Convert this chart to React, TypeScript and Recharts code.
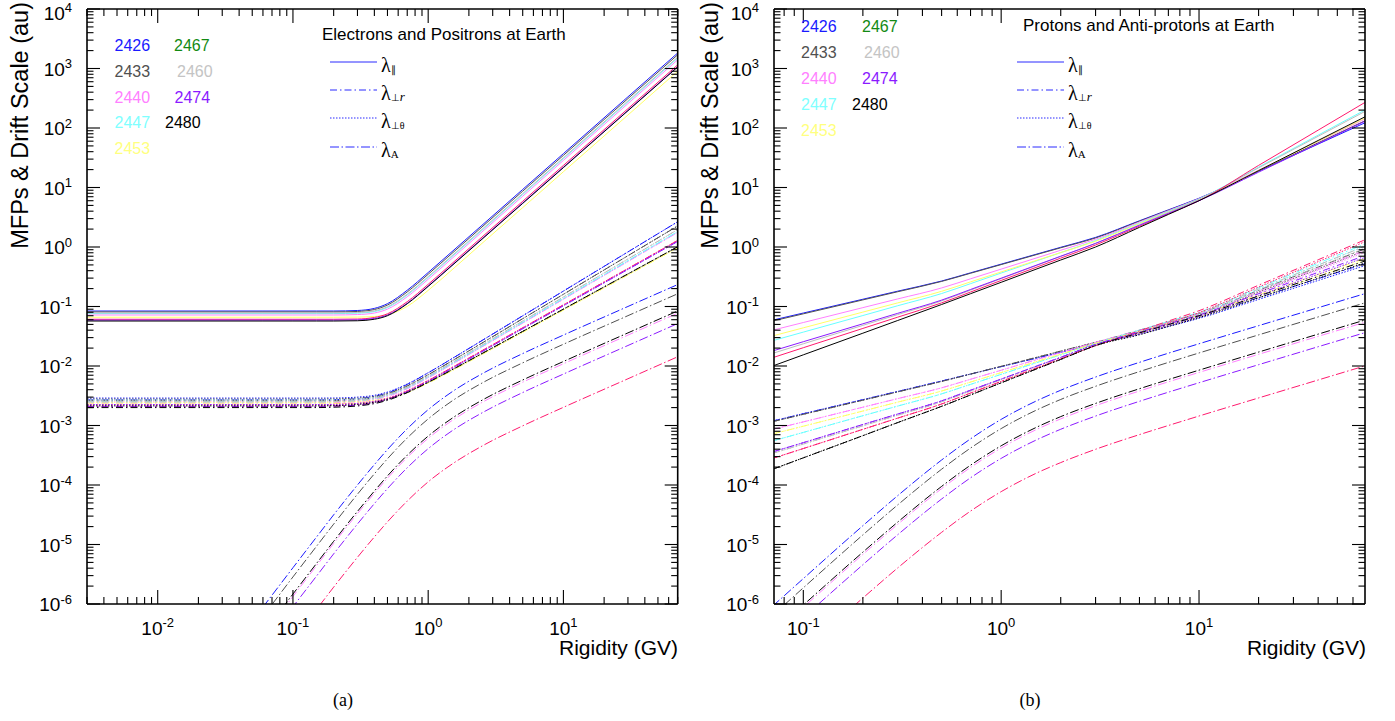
import React from 'react';
import { LineChart, Line, XAxis, YAxis } from 'recharts';

const SANS = '"Liberation Sans", Arial, Helvetica, sans-serif';
const SERIF = '"Liberation Serif", "Times New Roman", serif';

// Carrington rotations, in drawing order
const ROTATIONS = ['2426', '2433', '2440', '2447', '2453', '2460', '2467', '2474', '2480'];

const COLORS: Record<string, string> = {
  '2426': '#1a1aff',
  '2433': '#505050',
  '2440': '#ff80ff',
  '2447': '#66ffff',
  '2453': '#ffff66',
  '2460': '#bdbdbd',
  '2467': '#ff1a6e',
  '2474': '#8b1aff',
  '2480': '#000000',
};

const LABEL_COLORS: Record<string, string> = {
  '2426': '#1a1aff',
  '2467': '#138a13',
  '2433': '#505050',
  '2460': '#c4c4c4',
  '2440': '#ff80ff',
  '2474': '#8b1aff',
  '2447': '#80ffff',
  '2480': '#000000',
  '2453': '#ffff80',
};

// ---------- electrons / positrons (panel a) ----------
const E_RIGIDITY = [0.003, 0.06, 0.1, 0.15, 0.2, 0.3, 0.4, 0.5, 0.7, 1, 1.5, 2.5, 5, 10, 30, 70];

const E_PARALLEL: Record<string, number[]> = {
  '2426': [0.084, 0.084, 0.084, 0.084, 0.084, 0.0857, 0.0929, 0.1116, 0.1876, 0.3727, 0.835, 2.32, 9.28, 37.1, 334, 1820],
  '2433': [0.081, 0.081, 0.081, 0.081, 0.081, 0.0825, 0.0889, 0.1058, 0.1759, 0.3485, 0.781, 2.17, 8.68, 34.7, 312, 1700],
  '2440': [0.072, 0.072, 0.072, 0.072, 0.072, 0.0732, 0.0777, 0.0904, 0.146, 0.2871, 0.643, 1.79, 7.14, 28.6, 257, 1400],
  '2447': [0.076, 0.076, 0.076, 0.076, 0.076, 0.0773, 0.0823, 0.0961, 0.1562, 0.3076, 0.689, 1.91, 7.65, 30.6, 275, 1500],
  '2453': [0.066, 0.066, 0.066, 0.066, 0.066, 0.0664, 0.0679, 0.0727, 0.1006, 0.1865, 0.413, 1.15, 4.59, 18.4, 165, 900],
  '2460': [0.078, 0.078, 0.078, 0.078, 0.078, 0.0794, 0.0845, 0.099, 0.1613, 0.3178, 0.712, 1.98, 7.91, 31.6, 285, 1550],
  '2467': [0.061, 0.061, 0.061, 0.061, 0.061, 0.0616, 0.0654, 0.0754, 0.1205, 0.2361, 0.528, 1.47, 5.87, 23.5, 211, 1150],
  '2474': [0.059, 0.059, 0.059, 0.059, 0.059, 0.0596, 0.0629, 0.072, 0.1136, 0.2217, 0.496, 1.38, 5.51, 22.0, 198, 1080],
  '2480': [0.057, 0.057, 0.057, 0.057, 0.057, 0.0576, 0.061, 0.07, 0.1112, 0.2176, 0.487, 1.35, 5.41, 21.6, 195, 1060],
};

const E_PERP_R: Record<string, number[]> = {
  '2426': [2.7e-3, 2.7e-3, 2.7e-3, 2.7e-3, 2.72e-3, 2.83e-3, 3.09e-3, 3.54e-3, 4.91e-3, 7.68e-3, 0.0133, 0.0268, 0.0698, 0.1816, 0.827, 2.66],
  '2433': [2.6e-3, 2.6e-3, 2.6e-3, 2.6e-3, 2.62e-3, 2.72e-3, 2.95e-3, 3.36e-3, 4.6e-3, 7.12e-3, 0.0122, 0.0243, 0.0624, 0.1604, 0.714, 2.26],
  '2440': [2.4e-3, 2.4e-3, 2.4e-3, 2.4e-3, 2.42e-3, 2.51e-3, 2.71e-3, 3.07e-3, 4.14e-3, 6.32e-3, 0.0107, 0.021, 0.0527, 0.1326, 0.571, 1.76],
  '2447': [2.5e-3, 2.5e-3, 2.5e-3, 2.5e-3, 2.52e-3, 2.61e-3, 2.82e-3, 3.18e-3, 4.29e-3, 6.53e-3, 0.011, 0.0216, 0.0544, 0.1368, 0.589, 1.82],
  '2453': [2.3e-3, 2.3e-3, 2.3e-3, 2.3e-3, 2.32e-3, 2.39e-3, 2.54e-3, 2.79e-3, 3.56e-3, 5.16e-3, 8.32e-3, 0.0156, 0.0368, 0.087, 0.339, 0.97],
  '2460': [2.5e-3, 2.5e-3, 2.5e-3, 2.5e-3, 2.52e-3, 2.62e-3, 2.84e-3, 3.22e-3, 4.38e-3, 6.72e-3, 0.0114, 0.0225, 0.057, 0.1444, 0.629, 1.96],
  '2467': [2.1e-3, 2.1e-3, 2.1e-3, 2.1e-3, 2.13e-3, 2.22e-3, 2.44e-3, 2.78e-3, 3.78e-3, 5.7e-3, 9.44e-3, 0.0181, 0.0439, 0.1067, 0.435, 1.29],
  '2474': [2.1e-3, 2.1e-3, 2.1e-3, 2.1e-3, 2.12e-3, 2.21e-3, 2.41e-3, 2.73e-3, 3.67e-3, 5.5e-3, 9.1e-3, 0.0174, 0.0424, 0.1029, 0.42, 1.24],
  '2480': [2.0e-3, 2.0e-3, 2.0e-3, 2.0e-3, 2.03e-3, 2.13e-3, 2.33e-3, 2.65e-3, 3.56e-3, 5.3e-3, 8.63e-3, 0.0162, 0.0382, 0.0904, 0.353, 1.01],
};

const E_PERP_T: Record<string, number[]> = {
  '2426': [2.89e-3, 2.89e-3, 2.89e-3, 2.89e-3, 2.9e-3, 3.0e-3, 3.22e-3, 3.65e-3, 4.98e-3, 7.72e-3, 0.0133, 0.0268, 0.0698, 0.1816, 0.827, 2.66],
  '2433': [2.78e-3, 2.78e-3, 2.78e-3, 2.78e-3, 2.8e-3, 2.89e-3, 3.09e-3, 3.47e-3, 4.68e-3, 7.16e-3, 0.0122, 0.0243, 0.0624, 0.1604, 0.714, 2.26],
  '2440': [2.57e-3, 2.57e-3, 2.57e-3, 2.57e-3, 2.58e-3, 2.67e-3, 2.84e-3, 3.17e-3, 4.22e-3, 6.36e-3, 0.0107, 0.021, 0.0527, 0.1326, 0.571, 1.76],
  '2447': [2.68e-3, 2.68e-3, 2.68e-3, 2.68e-3, 2.69e-3, 2.78e-3, 2.95e-3, 3.29e-3, 4.37e-3, 6.57e-3, 0.011, 0.0216, 0.0544, 0.1368, 0.589, 1.82],
  '2453': [2.46e-3, 2.46e-3, 2.46e-3, 2.46e-3, 2.47e-3, 2.54e-3, 2.67e-3, 2.9e-3, 3.64e-3, 5.22e-3, 8.36e-3, 0.0156, 0.0368, 0.087, 0.339, 0.97],
  '2460': [2.68e-3, 2.68e-3, 2.68e-3, 2.68e-3, 2.69e-3, 2.79e-3, 2.97e-3, 3.33e-3, 4.46e-3, 6.76e-3, 0.0114, 0.0225, 0.057, 0.1444, 0.629, 1.96],
  '2467': [2.25e-3, 2.25e-3, 2.25e-3, 2.25e-3, 2.27e-3, 2.36e-3, 2.56e-3, 2.88e-3, 3.86e-3, 5.74e-3, 9.46e-3, 0.0181, 0.0439, 0.1067, 0.435, 1.29],
  '2474': [2.25e-3, 2.25e-3, 2.25e-3, 2.25e-3, 2.26e-3, 2.35e-3, 2.53e-3, 2.83e-3, 3.74e-3, 5.54e-3, 9.12e-3, 0.0174, 0.0424, 0.1029, 0.42, 1.24],
  '2480': [2.14e-3, 2.14e-3, 2.14e-3, 2.14e-3, 2.16e-3, 2.26e-3, 2.45e-3, 2.75e-3, 3.63e-3, 5.34e-3, 8.65e-3, 0.0162, 0.0382, 0.0904, 0.353, 1.01],
};

const E_DRIFT: Record<string, (number | null)[]> = {
  '2426': [null, 8.86e-7, 4.07e-6, 1.35e-5, 3.15e-5, 1.0e-4, 2.2e-4, 3.94e-4, 8.81e-4, 1.845e-3, 3.68e-3, 7.39e-3, 1.618e-2, 3.31e-2, 0.1001, 0.2338],
  '2433': [null, 6.2e-7, 2.85e-6, 9.45e-6, 2.2e-5, 7.0e-5, 1.54e-4, 2.76e-4, 6.17e-4, 1.29e-3, 2.58e-3, 5.17e-3, 1.13e-2, 2.32e-2, 0.0701, 0.1637],
  '2440': [null, 2.9e-7, 1.34e-6, 4.46e-6, 1.04e-5, 3.3e-5, 7.26e-5, 1.3e-4, 2.91e-4, 6.09e-4, 1.21e-3, 2.44e-3, 5.34e-3, 1.09e-2, 0.033, 0.0772],
  '2467': [null, 5.4e-8, 2.48e-7, 8.2e-7, 1.92e-6, 6.1e-6, 1.34e-5, 2.4e-5, 5.37e-5, 1.13e-4, 2.24e-4, 4.51e-4, 9.87e-4, 2.02e-3, 6.1e-3, 0.0143],
  '2474': [null, 1.96e-7, 9.0e-7, 2.98e-6, 6.96e-6, 2.21e-5, 4.86e-5, 8.7e-5, 1.95e-4, 4.08e-4, 8.13e-4, 1.63e-3, 3.58e-3, 7.32e-3, 0.0221, 0.0517],
  '2480': [null, 3.2e-7, 1.47e-6, 4.86e-6, 1.13e-5, 3.6e-5, 7.9e-5, 1.42e-4, 3.17e-4, 6.64e-4, 1.32e-3, 2.66e-3, 5.82e-3, 1.19e-2, 0.036, 0.0842],
};

// ---------- protons / anti-protons (panel b) ----------
const P_RIGIDITY = [0.07, 0.1, 0.2, 0.3, 0.5, 0.7, 1, 1.5, 2, 3, 5, 7, 10, 20, 40, 70];

const P_PARALLEL: Record<string, number[]> = {
  '2426': [0.059, 0.0777, 0.1324, 0.181, 0.268, 0.368, 0.515, 0.754, 0.989, 1.45, 2.76, 4.21, 6.6, 18.8, 53.7, 125],
  '2433': [0.057, 0.0753, 0.129, 0.177, 0.264, 0.362, 0.506, 0.741, 0.97, 1.42, 2.71, 4.14, 6.5, 19.1, 56.4, 135],
  '2440': [0.04, 0.0538, 0.0957, 0.134, 0.205, 0.292, 0.425, 0.651, 0.882, 1.35, 2.63, 4.08, 6.5, 19.6, 59.4, 145],
  '2447': [0.0266, 0.0371, 0.0705, 0.103, 0.165, 0.242, 0.365, 0.58, 0.805, 1.28, 2.53, 3.97, 6.4, 22.0, 75.9, 206],
  '2453': [0.032, 0.0438, 0.0805, 0.115, 0.18, 0.259, 0.381, 0.591, 0.806, 1.25, 2.47, 3.86, 6.2, 19.3, 60.0, 150],
  '2460': [0.0163, 0.0236, 0.0482, 0.0731, 0.124, 0.188, 0.294, 0.486, 0.695, 1.15, 2.37, 3.81, 6.3, 21.4, 72.6, 195],
  '2467': [0.0138, 0.0203, 0.0428, 0.0662, 0.115, 0.175, 0.274, 0.454, 0.65, 1.08, 2.24, 3.61, 6.0, 23.5, 92.0, 277],
  '2474': [0.0179, 0.0256, 0.0512, 0.0768, 0.128, 0.193, 0.299, 0.492, 0.7, 1.15, 2.32, 3.68, 6.0, 18.1, 54.6, 133],
  '2480': [0.01, 0.0154, 0.0356, 0.0582, 0.108, 0.164, 0.255, 0.423, 0.604, 1.0, 2.14, 3.53, 6.0, 19.2, 61.7, 158],
};

const P_PERP_R: Record<string, number[]> = {
  '2426': [1.19e-3, 1.58e-3, 2.72e-3, 3.74e-3, 5.6e-3, 7.33e-3, 9.75e-3, 0.0135, 0.017, 0.0235, 0.0369, 0.0496, 0.068, 0.1415, 0.294, 0.532],
  '2433': [1.16e-3, 1.54e-3, 2.66e-3, 3.67e-3, 5.5e-3, 7.31e-3, 9.88e-3, 0.0139, 0.0178, 0.025, 0.0401, 0.0547, 0.076, 0.187, 0.459, 0.95],
  '2440': [8.6e-4, 1.15e-3, 2.03e-3, 2.83e-3, 4.3e-3, 5.98e-3, 8.49e-3, 0.0127, 0.0168, 0.025, 0.0398, 0.0542, 0.075, 0.181, 0.437, 0.89],
  '2447': [5.5e-4, 7.65e-4, 1.46e-3, 2.12e-3, 3.4e-3, 4.91e-3, 7.24e-3, 0.0113, 0.0154, 0.024, 0.04, 0.056, 0.08, 0.207, 0.534, 1.15],
  '2453': [7.2e-4, 9.73e-4, 1.75e-3, 2.47e-3, 3.8e-3, 5.37e-3, 7.75e-3, 0.0118, 0.0158, 0.024, 0.0382, 0.052, 0.072, 0.158, 0.345, 0.65],
  '2460': [3.4e-4, 4.88e-4, 9.87e-4, 1.49e-3, 2.5e-3, 3.79e-3, 5.9e-3, 9.75e-3, 0.0139, 0.023, 0.0386, 0.0543, 0.078, 0.197, 0.497, 1.05],
  '2467': [2.8e-4, 4.1e-4, 8.62e-4, 1.33e-3, 2.3e-3, 3.51e-3, 5.51e-3, 9.18e-3, 0.0132, 0.022, 0.039, 0.057, 0.085, 0.228, 0.61, 1.35],
  '2474': [3.6e-4, 5.15e-4, 1.04e-3, 1.56e-3, 2.6e-3, 3.92e-3, 6.04e-3, 9.89e-3, 0.014, 0.023, 0.0373, 0.0514, 0.072, 0.164, 0.375, 0.73],
  '2480': [1.84e-4, 2.86e-4, 6.75e-4, 1.12e-3, 2.1e-3, 3.26e-3, 5.21e-3, 8.86e-3, 0.0129, 0.022, 0.036, 0.0497, 0.07, 0.15, 0.32, 0.59],
};

const P_PERP_T: Record<string, number[]> = {
  '2426': [1.19e-3, 1.58e-3, 2.72e-3, 3.74e-3, 5.6e-3, 7.33e-3, 9.75e-3, 0.0135, 0.017, 0.0235, 0.0343, 0.0461, 0.0632, 0.1316, 0.274, 0.495],
  '2433': [1.16e-3, 1.54e-3, 2.66e-3, 3.67e-3, 5.5e-3, 7.31e-3, 9.88e-3, 0.0139, 0.0178, 0.025, 0.0373, 0.0509, 0.0707, 0.174, 0.427, 0.884],
  '2440': [8.6e-4, 1.15e-3, 2.03e-3, 2.83e-3, 4.3e-3, 5.98e-3, 8.49e-3, 0.0127, 0.0168, 0.025, 0.037, 0.0504, 0.0698, 0.168, 0.406, 0.828],
  '2447': [5.5e-4, 7.65e-4, 1.46e-3, 2.12e-3, 3.4e-3, 4.91e-3, 7.24e-3, 0.0113, 0.0154, 0.024, 0.0372, 0.0521, 0.0744, 0.192, 0.497, 1.07],
  '2453': [7.2e-4, 9.73e-4, 1.75e-3, 2.47e-3, 3.8e-3, 5.37e-3, 7.75e-3, 0.0118, 0.0158, 0.024, 0.0355, 0.0484, 0.067, 0.147, 0.321, 0.605],
  '2460': [3.4e-4, 4.88e-4, 9.87e-4, 1.49e-3, 2.5e-3, 3.79e-3, 5.9e-3, 9.75e-3, 0.0139, 0.023, 0.0359, 0.0505, 0.0725, 0.183, 0.462, 0.977],
  '2467': [2.8e-4, 4.1e-4, 8.62e-4, 1.33e-3, 2.3e-3, 3.51e-3, 5.51e-3, 9.18e-3, 0.0132, 0.022, 0.0363, 0.053, 0.079, 0.212, 0.567, 1.256],
  '2474': [3.6e-4, 5.15e-4, 1.04e-3, 1.56e-3, 2.6e-3, 3.92e-3, 6.04e-3, 9.89e-3, 0.014, 0.023, 0.0347, 0.0478, 0.067, 0.1525, 0.349, 0.679],
  '2480': [1.84e-4, 2.86e-4, 6.75e-4, 1.12e-3, 2.1e-3, 3.26e-3, 5.21e-3, 8.86e-3, 0.0129, 0.022, 0.0335, 0.0462, 0.0651, 0.1395, 0.2975, 0.549],
};

const P_DRIFT: Record<string, number[]> = {
  '2426': [9.21e-7, 2.67e-6, 2.07e-5, 6.62e-5, 2.63e-4, 5.96e-4, 1.267e-3, 2.57e-3, 3.91e-3, 6.52e-3, 1.152e-2, 1.641e-2, 2.365e-2, 4.761e-2, 9.539e-2, 0.167],
  '2433': [6.45e-7, 1.87e-6, 1.45e-5, 4.63e-5, 1.84e-4, 4.17e-4, 8.87e-4, 1.8e-3, 2.74e-3, 4.56e-3, 8.06e-3, 1.149e-2, 1.656e-2, 3.333e-2, 6.677e-2, 0.1169],
  '2440': [3.04e-7, 8.81e-7, 6.82e-6, 2.18e-5, 8.68e-5, 1.97e-4, 4.18e-4, 8.48e-4, 1.29e-3, 2.15e-3, 3.8e-3, 5.42e-3, 7.8e-3, 1.571e-2, 3.148e-2, 0.0551],
  '2467': [5.6e-8, 1.63e-7, 1.26e-6, 4.04e-6, 1.6e-5, 3.64e-5, 7.73e-5, 1.57e-4, 2.38e-4, 3.98e-4, 7.03e-4, 1.0e-3, 1.443e-3, 2.904e-3, 5.82e-3, 0.0102],
  '2474': [2.04e-7, 5.9e-7, 4.57e-6, 1.46e-5, 5.81e-5, 1.32e-4, 2.8e-4, 5.68e-4, 8.64e-4, 1.44e-3, 2.55e-3, 3.63e-3, 5.23e-3, 1.052e-2, 2.108e-2, 0.0369],
  '2480': [3.32e-7, 9.61e-7, 7.44e-6, 2.38e-5, 9.47e-5, 2.15e-4, 4.56e-4, 9.25e-4, 1.41e-3, 2.35e-3, 4.15e-3, 5.91e-3, 8.51e-3, 1.714e-2, 3.434e-2, 0.0601],
};

// ---------- axes ----------
const Y_DOMAIN: [number, number] = [1e-6, 1e4];
const E_X_DOMAIN: [number, number] = [0.003, 70];
const P_X_DOMAIN: [number, number] = [0.0711, 69];
const Y_DECADES = [1e-6, 1e-5, 1e-4, 1e-3, 1e-2, 1e-1, 1, 10, 100, 1e3, 1e4];
const X_DECADES = [1e-3, 1e-2, 1e-1, 1, 10];
const MINOR_STEPS = [1, 2, 3, 4, 5, 6, 7, 8, 9];

const logTicks = (decades: number[], domain: [number, number]) =>
  decades
    .flatMap((d) => MINOR_STEPS.map((m) => d * m))
    .filter((v) => v >= domain[0] * 0.9999 && v <= domain[1] * 1.0001);

const Y_TICKS = logTicks(Y_DECADES, Y_DOMAIN);
const E_X_TICKS = logTicks(X_DECADES, E_X_DOMAIN);
const P_X_TICKS = logTicks(X_DECADES, P_X_DOMAIN);

const KINDS = ['par', 'perpR', 'perpT', 'drift'];
const DASH: Record<string, string | undefined> = {
  par: undefined,
  perpR: '7 3 1.5 3',
  perpT: '1.5 1.5',
  drift: '9 2.5 1.5 2.5',
};

const decade = (v: number) => {
  const e = Math.round(Math.log10(v));
  return { e, major: Math.abs(Math.log10(v) - e) < 1e-6 };
};

const TickLabel = ({ x, y, e, anchor }: { x: number; y: number; e: number; anchor: 'end' | 'middle' }) => (
  <text x={x} y={y} textAnchor={anchor} fontFamily={SANS} fontSize={19} fill="#000">
    10<tspan dy={-7.2} fontSize={13}>{e}</tspan>
  </text>
);

const BottomTick = (props: any) => {
  const { x, y, payload } = props;
  const { e, major } = decade(payload.value);
  return (
    <g>
      <line x1={x} x2={x} y1={y} y2={y - (major ? 14 : 7)} stroke="#000" strokeWidth={1.1} />
      {major && <TickLabel x={x} y={y + 30.5} e={e} anchor="middle" />}
    </g>
  );
};

const TopTick = (props: any) => {
  const { x, y, payload } = props;
  const { major } = decade(payload.value);
  return <line x1={x} x2={x} y1={y} y2={y + (major ? 14 : 7)} stroke="#000" strokeWidth={1.1} />;
};

// the topmost label sits at the page edge: keep it just inside
const LeftTick = (props: any) => {
  const { x, y, payload } = props;
  const { e, major } = decade(payload.value);
  return (
    <g>
      <line x1={x} x2={x + (major ? 13 : 6.5)} y1={y} y2={y} stroke="#000" strokeWidth={1.1} />
      {major && <TickLabel x={x - 15} y={Math.max(y + 7, 19.5)} e={e} anchor="end" />}
    </g>
  );
};

const RightTick = (props: any) => {
  const { x, y, payload } = props;
  const { major } = decade(payload.value);
  return <line x1={x} x2={x - (major ? 13 : 6.5)} y1={y} y2={y} stroke="#000" strokeWidth={1.1} />;
};

type SeriesSet = Record<string, Record<string, (number | null)[]>>;

const buildRows = (grid: number[], sets: SeriesSet) =>
  grid.map((p, i) => {
    const row: Record<string, number | null> = { p };
    KINDS.forEach((k) => {
      Object.entries(sets[k]).forEach(([rot, vals]) => {
        row[`${k}_${rot}`] = vals[i];
      });
    });
    return row;
  });

const E_ROWS = buildRows(E_RIGIDITY, { par: E_PARALLEL, perpR: E_PERP_R, perpT: E_PERP_T, drift: E_DRIFT });
const P_ROWS = buildRows(P_RIGIDITY, { par: P_PARALLEL, perpR: P_PERP_R, perpT: P_PERP_T, drift: P_DRIFT });

const AXIS_LINE = { stroke: '#000', strokeWidth: 1.6 };

// axes are 1px thick (a 0-size axis is not drawn), so the margins are 1px smaller
function Panel(props: {
  rows: Record<string, number | null>[];
  xDomain: [number, number];
  xTicks: number[];
  width: number;
  height: number;
  margin: { top: number; right: number; bottom: number; left: number };
}) {
  const { rows, xDomain, xTicks, width, height, margin } = props;
  const keys = new Set(Object.keys(rows[0]));
  const m = { top: margin.top - 1, right: margin.right - 1, bottom: margin.bottom - 1, left: margin.left - 1 };
  return (
    <LineChart width={width} height={height} data={rows} margin={m}>
      <XAxis dataKey="p" type="number" scale="log" domain={xDomain} allowDataOverflow ticks={xTicks}
        interval={0} height={1} tickSize={0} tickMargin={0} tickLine={false} axisLine={AXIS_LINE} tick={<BottomTick />} />
      <XAxis xAxisId="top" orientation="top" dataKey="p" type="number" scale="log" domain={xDomain} allowDataOverflow
        ticks={xTicks} interval={0} height={1} tickSize={0} tickMargin={0} tickLine={false} axisLine={AXIS_LINE} tick={<TopTick />} />
      <YAxis type="number" scale="log" domain={Y_DOMAIN} allowDataOverflow ticks={Y_TICKS} interval={0} width={1}
        tickSize={0} tickMargin={0} tickLine={false} axisLine={AXIS_LINE} tick={<LeftTick />} />
      <YAxis yAxisId="right" orientation="right" type="number" scale="log" domain={Y_DOMAIN} allowDataOverflow
        ticks={Y_TICKS} interval={0} width={1} tickSize={0} tickMargin={0} tickLine={false} axisLine={AXIS_LINE} tick={<RightTick />} />
      {ROTATIONS.flatMap((rot) =>
        KINDS.filter((k) => keys.has(`${k}_${rot}`)).map((k) => (
          <Line key={`${k}_${rot}`} type="monotone" dataKey={`${k}_${rot}`} stroke={COLORS[rot]} strokeWidth={1}
            strokeDasharray={DASH[k]} dot={false} activeDot={false} isAnimationActive={false} />
        ))
      )}
    </LineChart>
  );
}

const LEGEND_ROWS: [string, string | null][] = [
  ['2426', '2467'],
  ['2433', '2460'],
  ['2440', '2474'],
  ['2447', '2480'],
  ['2453', null],
];

function Lambda({ x, y, kind }: { x: number; y: number; kind: string }) {
  return (
    <text x={x} y={y} fontFamily={SERIF} fontSize={20} fill="#000">
      λ
      {kind === 'par' && <tspan fontSize={10} dy={1}>∥</tspan>}
      {kind === 'perpR' && (
        <tspan fontSize={10} dy={1}>⊥<tspan fontStyle="italic" fontSize={13}>r</tspan></tspan>
      )}
      {kind === 'perpT' && <tspan fontSize={10} dy={1}>⊥θ</tspan>}
      {kind === 'drift' && <tspan fontSize={11} dy={1}>A</tspan>}
    </text>
  );
}

function Annotations({ lx, tx, title, titleY, rowY, col1, col2 }: {
  lx: number; tx: number; title: string; titleY: number; rowY: number[]; col1: number; col2: Record<string, number>;
}) {
  const legendY = [62, 90, 118, 147];
  return (
    <g>
      {LEGEND_ROWS.map(([a, b], i) => (
        <g key={a}>
          <text x={col1} y={rowY[i]} fontFamily={SANS} fontSize={16} fill={LABEL_COLORS[a]}>{a}</text>
          {b && <text x={col2[b]} y={rowY[i]} fontFamily={SANS} fontSize={16} fill={LABEL_COLORS[b]}>{b}</text>}
        </g>
      ))}
      <text x={tx} y={titleY} fontFamily={SANS} fontSize={17} fill="#000">{title}</text>
      {KINDS.map((k, i) => (
        <g key={k}>
          <line x1={lx} x2={lx + 47} y1={legendY[i]} y2={legendY[i]} stroke="#2a2aff" strokeWidth={1}
            strokeDasharray={DASH[k]} />
          <Lambda x={lx + 51} y={legendY[i] + 9.7} kind={k} />
        </g>
      ))}
    </g>
  );
}

export default function App() {
  return (
    <div style={{ position: 'absolute', left: 0, top: 0, width: 1395, height: 721, background: '#fff' }}>
      <div style={{ position: 'absolute', left: 0, top: 0 }}>
        <Panel rows={E_ROWS} xDomain={E_X_DOMAIN} xTicks={E_X_TICKS} width={700} height={721}
          margin={{ top: 9, left: 87, right: 22.3, bottom: 117 }} />
      </div>
      <div style={{ position: 'absolute', left: 690, top: 0 }}>
        <Panel rows={P_ROWS} xDomain={P_X_DOMAIN} xTicks={P_X_TICKS} width={705} height={721}
          margin={{ top: 9, left: 84, right: 30, bottom: 117 }} />
      </div>
      <svg width={1395} height={721} style={{ position: 'absolute', left: 0, top: 0, pointerEvents: 'none' }}>
        <Annotations lx={330} tx={322} title="Electrons and Positrons at Earth" titleY={40}
          rowY={[51, 77, 102.7, 128.3, 154.3]} col1={114.5}
          col2={{ '2467': 174, '2460': 177, '2474': 174.5, '2480': 165 }} />
        <Annotations lx={1017} tx={1023} title="Protons and Anti-protons at Earth" titleY={30.7}
          rowY={[32.3, 58.3, 84.3, 110, 135.7]} col1={801}
          col2={{ '2467': 862, '2460': 864, '2474': 862, '2480': 852 }} />
        <text transform="translate(28,2) rotate(-90)" textAnchor="end" fontFamily={SANS} fontSize={23.5} fill="#000">
          MFPs &amp; Drift Scale (au)
        </text>
        <text transform="translate(718,2) rotate(-90)" textAnchor="end" fontFamily={SANS} fontSize={23.5} fill="#000">
          MFPs &amp; Drift Scale (au)
        </text>
        <text x={678} y={654.5} textAnchor="end" fontFamily={SANS} fontSize={21} fill="#000">Rigidity (GV)</text>
        <text x={1366} y={654.5} textAnchor="end" fontFamily={SANS} fontSize={21} fill="#000">Rigidity (GV)</text>
        <text x={343} y={706} textAnchor="middle" fontFamily={SERIF} fontSize={18} fill="#000">(a)</text>
        <text x={1030} y={706} textAnchor="middle" fontFamily={SERIF} fontSize={18} fill="#000">(b)</text>
      </svg>
    </div>
  );
}
